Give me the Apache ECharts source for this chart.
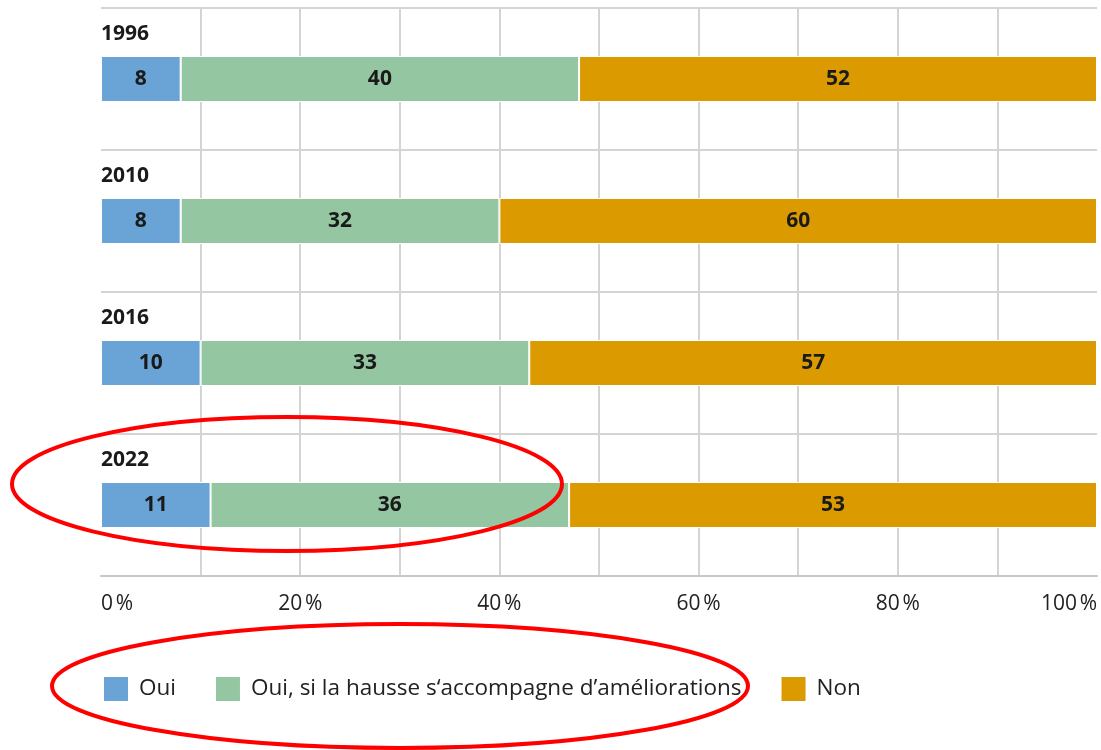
<!DOCTYPE html>
<html>
<head>
<meta charset="utf-8">
<script src="https://cdn.jsdelivr.net/npm/echarts@6/dist/echarts.min.js"></script>
<style>
  html, body { margin: 0; padding: 0; background: #fff; }
  #chart { width: 1101px; height: 750px; }
</style>
</head>
<body>
<div id="chart"></div>
<script>
// données
var years = ['1996', '2010', '2016', '2022'];
var oui = [8, 8, 10, 11];
var ouiSi = [40, 32, 33, 36];
var non = [52, 60, 57, 53];
var seriesNames = ['Oui', 'Oui, si la hausse s\u2018accompagne d\u2019améliorations', 'Non'];

var FONT = '"Open Sans", sans-serif';

function barSerie(name, data, color) {
    return {
        name: name,
        type: 'bar',
        stack: 'total',
        data: data,
        barWidth: 46,
        itemStyle: { color: color, borderColor: '#fff', borderWidth: 1 },
        label: {
            show: true,
            position: 'inside',
            color: '#1a1a1a',
            fontFamily: FONT,
            fontWeight: 'bold',
            fontSize: 21
        }
    };
}

var option = {
    animation: false,
    grid: { left: 101, right: 4, top: 8, bottom: 174, containLabel: false, outerBoundsMode: 'none' },
    legend: {
        left: 102,
        top: 675,
        padding: 0,
        itemWidth: 26,
        itemHeight: 26,
        itemGap: 38,
        icon: 'rect',
        textStyle: { fontFamily: FONT, fontSize: 22.5, color: '#222', padding: [0, 0, 0, 5] },
        data: seriesNames
    },
    xAxis: {
        type: 'value',
        min: 0,
        max: 100,
        interval: 10,
        axisLine: { show: true, lineStyle: { color: '#c8c8c8', width: 2 } },
        axisTick: { show: false },
        splitLine: { show: true, showMinLine: false, showMaxLine: false, lineStyle: { color: '#d4d4d4', width: 2 } },
        axisLabel: {
            margin: 18,
            fontFamily: FONT,
            fontSize: 21,
            color: '#222',
            alignMinLabel: 'left',
            alignMaxLabel: 'right',
            formatter: function (v) { return v % 20 === 0 ? v + '\u202f%' : ''; }
        }
    },
    yAxis: {
        type: 'category',
        data: years,
        inverse: true,
        axisLine: { show: false },
        axisTick: { show: false },
        splitLine: { show: true, lineStyle: { color: '#d4d4d4', width: 2 } },
        axisLabel: {
            inside: true,
            interval: 0,
            showMinLabel: true,
            showMaxLabel: true,
            hideOverlap: false,
            margin: 0,
            align: 'left',
            verticalAlign: 'middle',
            lineHeight: 90,
            formatter: function (v) { return v + '\n '; },
            fontFamily: FONT,
            fontWeight: 'bold',
            fontSize: 21,
            color: '#1a1a1a'
        }
    },
    series: [
        barSerie(seriesNames[0], oui, '#6aa3d5'),
        barSerie(seriesNames[1], ouiSi, '#94c7a1'),
        barSerie(seriesNames[2], non, '#db9b00')
    ],
    graphic: [
        {
            type: 'ellipse', z: 100,
            shape: { cx: 287, cy: 484, rx: 275, ry: 67 },
            style: { fill: 'none', stroke: '#ff0000', lineWidth: 4 }
        },
        {
            type: 'ellipse', z: 100,
            shape: { cx: 400, cy: 686, rx: 348, ry: 62 },
            style: { fill: 'none', stroke: '#ff0000', lineWidth: 4 }
        }
    ]
};

var mychart = echarts.init(document.getElementById('chart'));
mychart.setOption(option);
</script>
</body>
</html>
